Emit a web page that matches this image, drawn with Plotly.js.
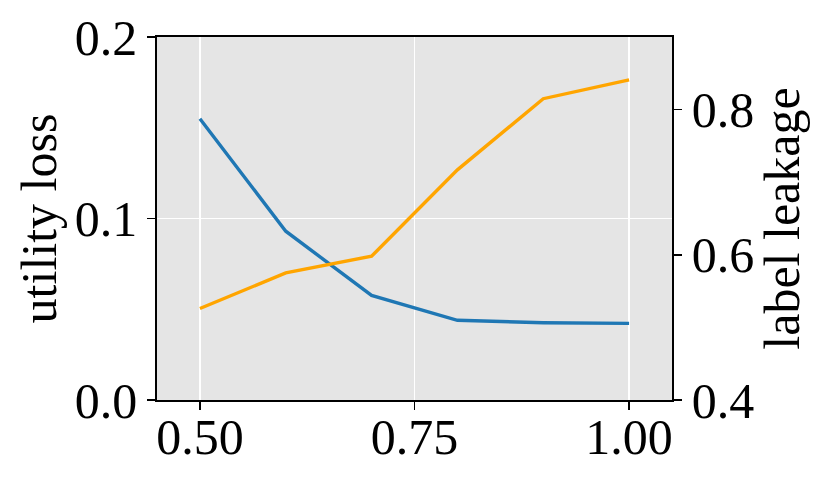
<!DOCTYPE html>
<html>
<head>
<meta charset="utf-8">
<script src="https://cdn.plot.ly/plotly-3.0.1.min.js"></script>
<style>
  html, body { margin: 0; padding: 0; background: #fff; }
  #chart { width: 831px; height: 484px; }
</style>
</head>
<body>
<div id="chart"></div>
<script>
// ratio on the x axis
var ratio = [0.5, 0.6, 0.7, 0.8, 0.9, 1.0];
// left axis
var utility_loss = [0.155, 0.093, 0.0576, 0.0439, 0.0426, 0.0422];
// right axis
var label_leakage = [0.526, 0.575, 0.598, 0.717, 0.815, 0.841];

var xTicks = [0.5, 0.75, 1.0];
var xTickText = ['0.50', '0.75', '1.00'];
var y1Ticks = [0.0, 0.1, 0.2];
var y1TickText = ['0.0', '0.1', '0.2'];
var y2Ticks = [0.4, 0.6, 0.8];
var y2TickText = ['0.4', '0.6', '0.8'];

var trace1 = {
  x: ratio,
  y: utility_loss,
  type: 'scatter',
  mode: 'lines',
  line: {color: '#1f77b4', width: 3.4},
  name: 'utility loss',
  yaxis: 'y'
};

var trace2 = {
  x: ratio,
  y: label_leakage,
  type: 'scatter',
  mode: 'lines',
  line: {color: '#ffa500', width: 3.4},
  name: 'label leakage',
  yaxis: 'y2'
};

var font = {family: '"Liberation Serif", "Times New Roman", serif', size: 50, color: '#000'};

var layout = {
  width: 831,
  height: 484,
  margin: {l: 157, r: 159, t: 37, b: 84},
  paper_bgcolor: '#ffffff',
  plot_bgcolor: '#e5e5e5',
  showlegend: false,
  font: font,
  xaxis: {
    range: [0.45, 1.05],
    tickvals: xTicks,
    ticktext: xTickText,
    ticks: 'outside',
    ticklen: 8,
    tickwidth: 1.6,
    tickcolor: '#000',
    ticklabelstandoff: -16,
    showline: true,
    mirror: true,
    linecolor: '#000',
    linewidth: 1.8,
    showgrid: true,
    gridcolor: '#ffffff',
    gridwidth: 1.6,
    zeroline: false,
    tickfont: font
  },
  yaxis: {
    range: [0, 0.2],
    tickvals: y1Ticks,
    ticktext: y1TickText,
    ticks: 'outside',
    ticklen: 8,
    tickwidth: 1.6,
    tickcolor: '#000',
    showline: true,
    linecolor: '#000',
    linewidth: 1.8,
    showgrid: true,
    gridcolor: '#ffffff',
    gridwidth: 1.6,
    zeroline: false,
    tickfont: font,
    title: {text: 'utility loss', font: font, standoff: 2}
  },
  yaxis2: {
    range: [0.4, 0.9],
    overlaying: 'y',
    side: 'right',
    tickvals: y2Ticks,
    ticktext: y2TickText,
    ticks: 'outside',
    ticklen: 8,
    tickwidth: 1.6,
    tickcolor: '#000',
    showline: true,
    linecolor: '#000',
    linewidth: 1.8,
    showgrid: false,
    zeroline: false,
    tickfont: font,
    title: {text: 'label leakage', font: font, standoff: 11}
  }
};

Plotly.newPlot('chart', [trace1, trace2], layout, {displayModeBar: false, staticPlot: true});
</script>
</body>
</html>
